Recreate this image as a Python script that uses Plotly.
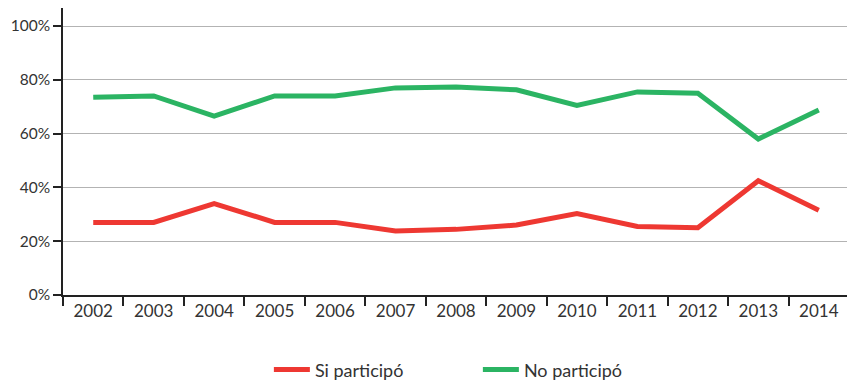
import plotly.graph_objects as go

years = ["2002", "2003", "2004", "2005", "2006", "2007", "2008",
         "2009", "2010", "2011", "2012", "2013", "2014"]
si_participo = [27, 27, 34, 27, 27, 23.8, 24.4, 26, 30.3, 25.5, 25, 42.5, 31.5]
no_participo = [73.5, 74, 66.5, 74, 74, 77, 77.3, 76.3, 70.5, 75.5, 75, 58, 68.8]
y_ticks = [0, 20, 40, 60, 80, 100]
y_labels = [f"{v}%" for v in y_ticks]

font_family = "Lato, 'Open Sans', sans-serif"

fig = go.Figure()
fig.add_trace(go.Scatter(x=years, y=si_participo, name="Si participó", mode="lines",
                         line=dict(color="#EE3832", width=5)))
fig.add_trace(go.Scatter(x=years, y=no_participo, name="No participó", mode="lines",
                         line=dict(color="#2BB463", width=5)))

# page body has an 8px default margin, so the figure is 8px smaller
fig.update_layout(
    width=847, height=375,
    margin=dict(l=55, r=6, t=0, b=88, autoexpand=False),
    paper_bgcolor="white", plot_bgcolor="white",
    font=dict(family=font_family, size=17, color="#333333"),
    showlegend=True,
    legend=dict(orientation="h", xref="container", yref="container",
                x=0.308, xanchor="left", y=0.035, yanchor="middle",
                font=dict(size=18, color="#333333"), itemwidth=36,
                entrywidthmode="pixels", entrywidth=158),
    xaxis=dict(type="category", range=[-0.5, 12.5], tickson="boundaries",
               ticks="outside", ticklen=9, tickwidth=1.5, tickcolor="#222222",
               showline=True, linecolor="#222222", linewidth=1.5, automargin=False,
               showgrid=False, tickfont=dict(size=17, color="#333333")),
    yaxis=dict(range=[0, 106.7], tickvals=y_ticks, ticktext=y_labels,
               ticks="outside", ticklen=8, tickwidth=1.5, tickcolor="#222222",
               showline=True, linecolor="#222222", linewidth=1.5, automargin=False,
               showgrid=True, gridcolor="#B3B3B3", gridwidth=1.2,
               zeroline=False, tickfont=dict(size=15.5, color="#333333")),
)

fig.write_html("out.html")
